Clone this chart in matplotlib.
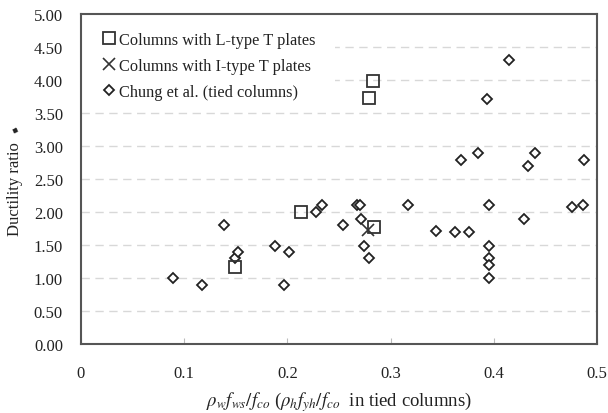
import matplotlib
matplotlib.use("Agg")
import matplotlib.pyplot as plt
from matplotlib.patches import Rectangle

plt.rcParams['font.family'] = ['Liberation Serif', 'DejaVu Sans']
plt.rcParams['mathtext.fontset'] = 'stix'

# L-type T plates
l_x = [0.149, 0.213, 0.279, 0.283, 0.284]
l_y = [1.17, 2.00, 3.72, 3.99, 1.78]
# I-type T plates
i_x = [0.278]
i_y = [1.72]
# Chung et al. (tied columns)
c_x = [0.089, 0.117, 0.139, 0.149, 0.152, 0.188, 0.197, 0.202, 0.228, 0.234,
       0.254, 0.267, 0.270, 0.271, 0.274, 0.279, 0.317, 0.344, 0.362, 0.368,
       0.376, 0.385, 0.393, 0.395, 0.395, 0.395, 0.395, 0.395, 0.415, 0.429,
       0.433, 0.440, 0.476, 0.486, 0.487]
c_y = [1.00, 0.89, 1.80, 1.30, 1.40, 1.49, 0.89, 1.40, 2.00, 2.10,
       1.80, 2.10, 2.10, 1.90, 1.49, 1.30, 2.10, 1.71, 1.70, 2.79,
       1.70, 2.90, 3.71, 2.10, 1.49, 1.31, 1.20, 1.00, 4.31, 1.89,
       2.70, 2.90, 2.08, 2.10, 2.79]

x_ticks = [0, 0.1, 0.2, 0.3, 0.4, 0.5]
x_labels = ['0', '0.1', '0.2', '0.3', '0.4', '0.5']
y_ticks = [0, 0.5, 1.0, 1.5, 2.0, 2.5, 3.0, 3.5, 4.0, 4.5, 5.0]
y_labels = ['%.2f' % v for v in y_ticks]

fig = plt.figure(figsize=(6.08, 4.14), dpi=100)
ax = fig.add_axes([0.1332, 0.1667, 0.8487, 0.7971])

ax.set_xlim(0, 0.5)
ax.set_ylim(0, 5.0)

for v in y_ticks[1:-1]:
    ax.axhline(v, color='#d8d8d8', lw=1.0, dashes=(6, 4), zorder=0)

# white legend background that hides the grid behind it
ax.add_patch(Rectangle((0, 0.72), 0.492, 0.28, transform=ax.transAxes,
                       facecolor='white', edgecolor='none', zorder=1))

ax.plot(c_x, c_y, ls='none', marker='D', ms=4.6, mfc='white', mec='#222222',
        mew=1.3, label='Chung et al. (tied columns)', zorder=3)
ax.plot(l_x, l_y, ls='none', marker='s', ms=8.0, mfc='none', mec='#333333',
        mew=1.3, label='Columns with L-type T plates', zorder=4)
ax.plot(i_x, i_y, ls='none', marker='x', ms=8.5, mec='#333333',
        mew=1.2, label='Columns with I-type T plates', zorder=5)

ax.set_xticks(x_ticks)
ax.set_xticklabels(x_labels)
ax.set_yticks(y_ticks)
ax.set_yticklabels(y_labels)
ax.tick_params(axis='x', direction='in', length=4, color='#bbbbbb',
               pad=15, labelsize=12, labelcolor='#222222')
ax.tick_params(axis='y', length=0, pad=13, labelsize=12, labelcolor='#222222')

for s in ax.spines.values():
    s.set_color('#555555')
    s.set_linewidth(1.5)

handles, labels = ax.get_legend_handles_labels()
order = [1, 2, 0]
leg = ax.legend([handles[i] for i in order], [labels[i] for i in order],
                loc='upper left', bbox_to_anchor=(0.025, 0.965), frameon=False,
                fontsize=11.8, handletextpad=0.15, handlelength=1.0,
                labelspacing=0.6, borderaxespad=0.0)
for t in leg.get_texts():
    t.set_color('#222222')

fig.text(0.024, 0.5435, 'Ductility ratio', rotation=90, ha='center', va='center',
         fontsize=12, color='#222222')
fig.text(0.026, 0.686, '\u25c6', rotation=70, ha='center', va='center',
         fontsize=6, color='#222222', family=['DejaVu Sans'])

fig.text(0.5576, 0.028,
         r'$\rho_{w}f_{ws}/f_{co}$ ($\rho_{h}f_{yh}/f_{co}$  in tied columns)',
         ha='center', va='center', fontsize=13.5, color='#222222')

fig.savefig('out.png', dpi=100)
